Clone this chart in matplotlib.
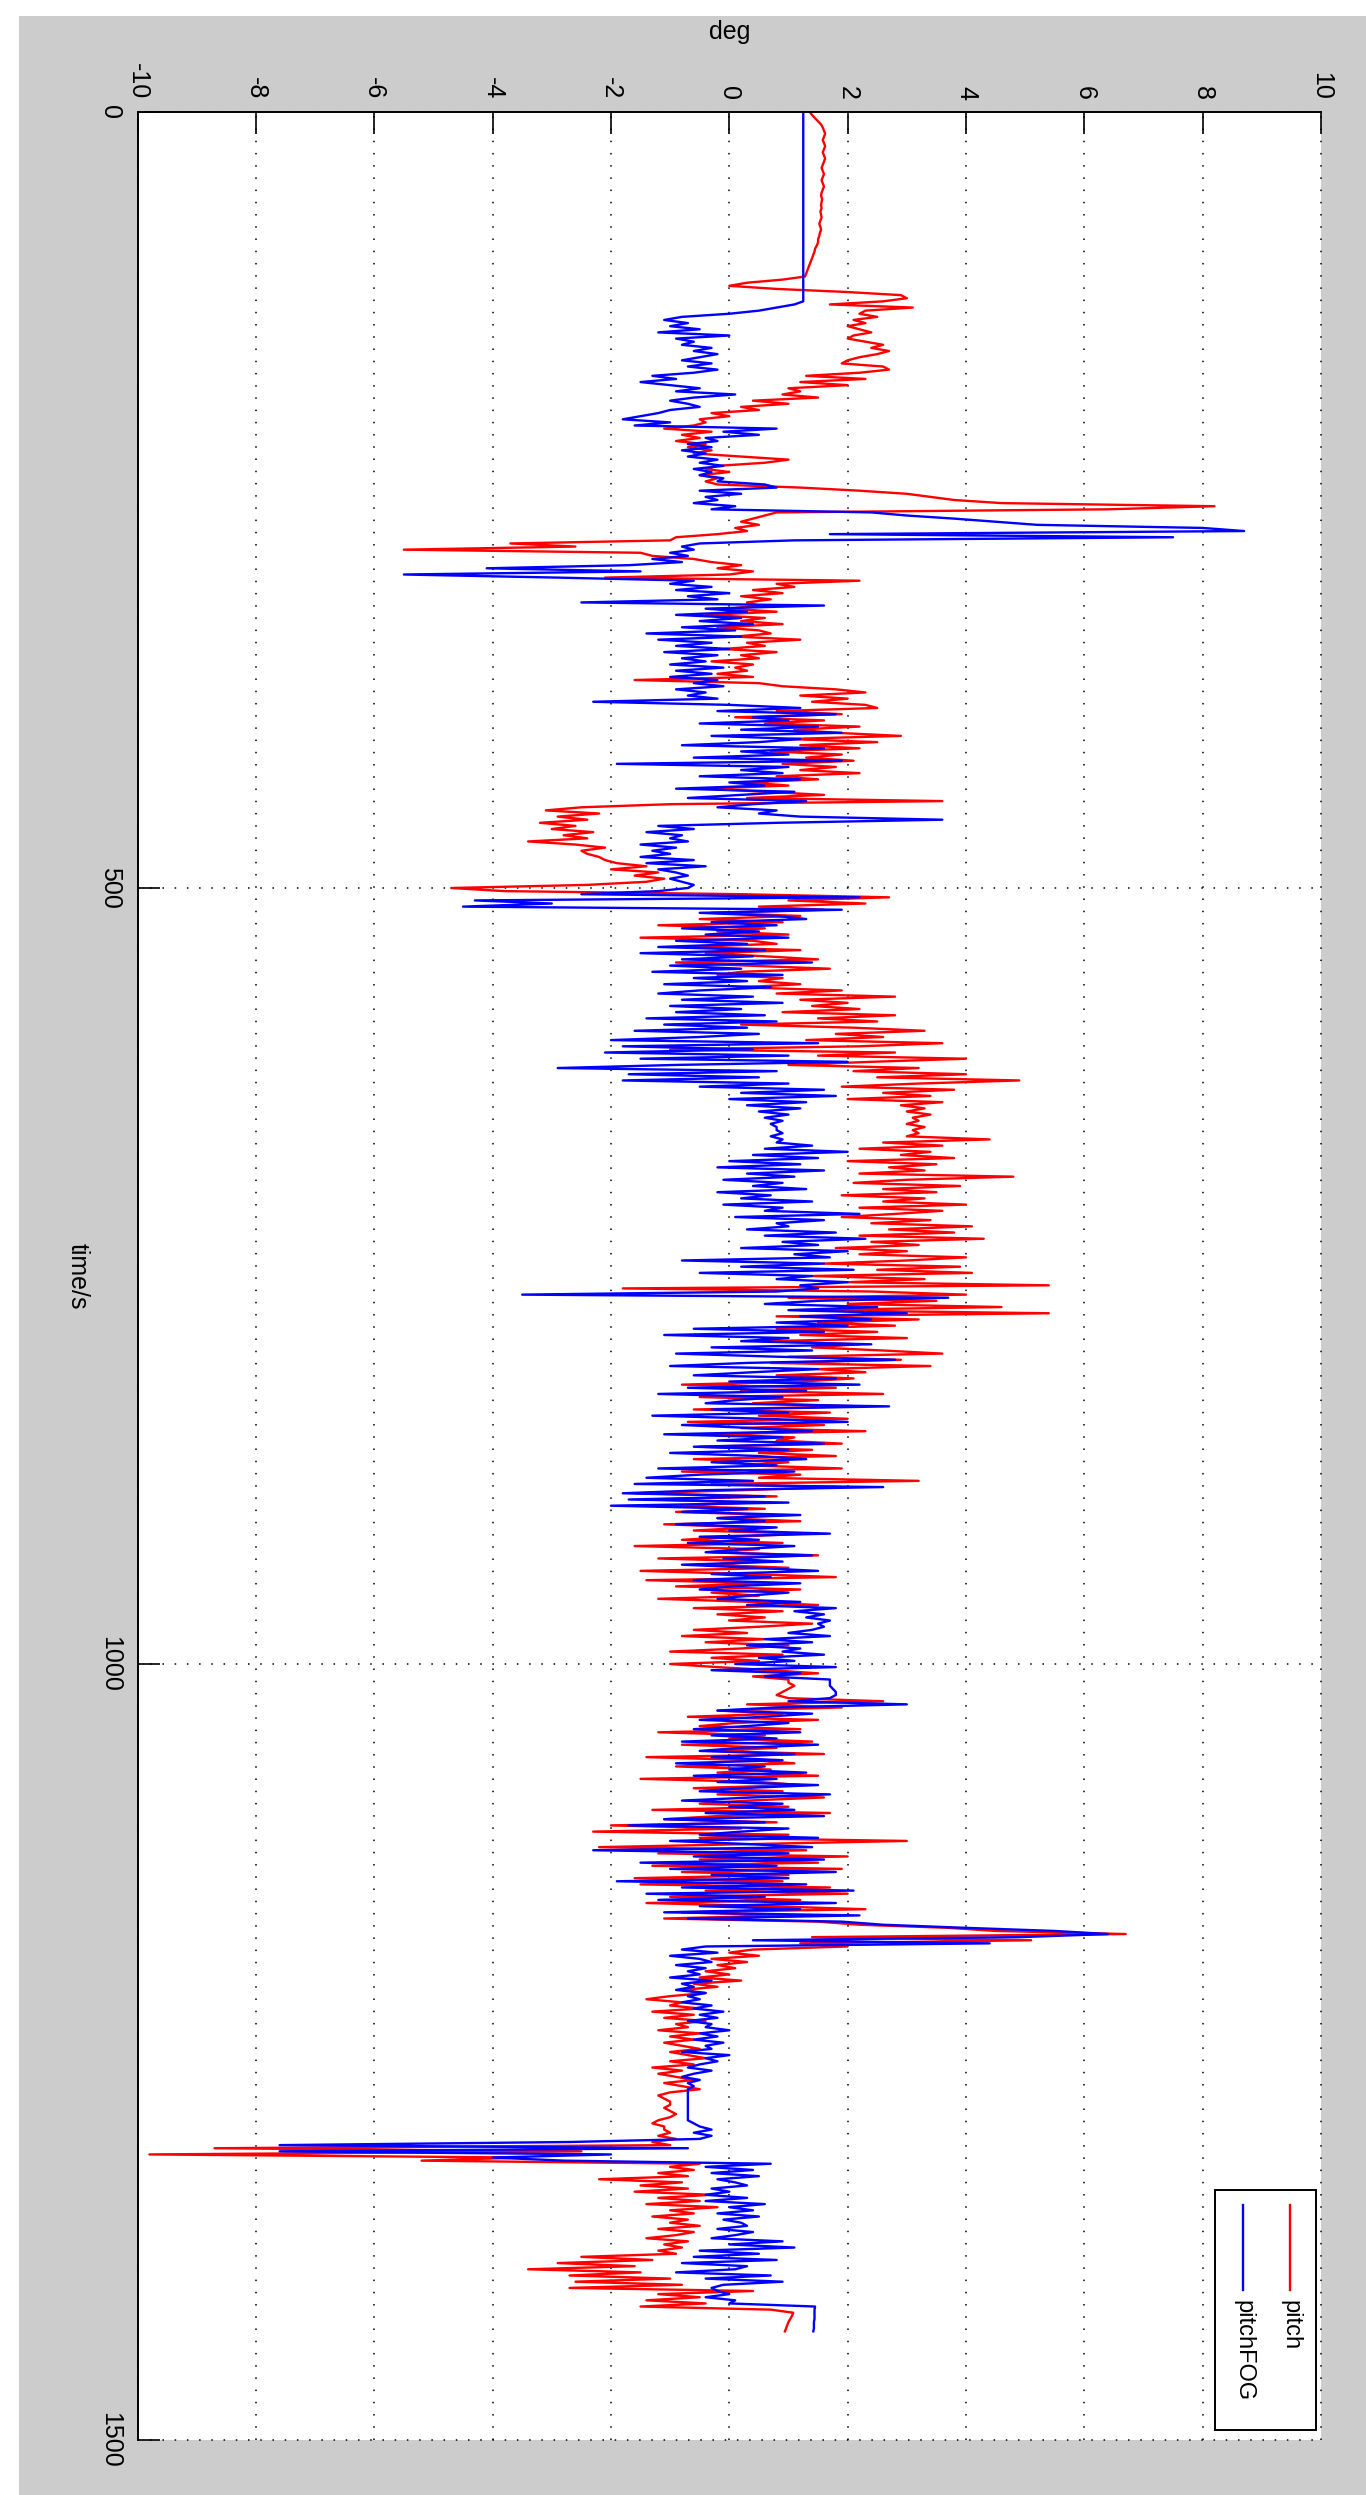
import numpy as np
import matplotlib
matplotlib.use("Agg")
import matplotlib.pyplot as plt
from matplotlib.patches import Rectangle
from matplotlib.lines import Line2D

plt.rcParams["font.family"] = ["Liberation Sans", "DejaVu Sans"]
plt.rcParams["axes.unicode_minus"] = False

# ---------------- data (one sample every 2 s) ----------------
time_step = 2  # seconds between samples
deg_ticks = [-10, -8, -6, -4, -2, 0, 2, 4, 6, 8, 10]
time_ticks = [0, 500, 1000, 1500]
series_names = ["pitch", "pitchFOG"]

pitch = [
    1.36, 1.40, 1.45, 1.50, 1.55, 1.58, 1.60, 1.62, 1.60, 1.58,
    1.60, 1.62, 1.60, 1.58, 1.60, 1.62, 1.60, 1.58, 1.56, 1.58,
    1.60, 1.58, 1.56, 1.58, 1.60, 1.58, 1.56, 1.55, 1.57, 1.56,
    1.55, 1.56, 1.54, 1.55, 1.56, 1.54, 1.52, 1.54, 1.55, 1.53,
    1.52, 1.50, 1.50, 1.48, 1.45, 1.44, 1.42, 1.40, 1.38, 1.36,
    1.34, 1.32, 1.30, 1.28, 0.90, 0.30, 0.00, 0.80, 2.00, 2.90,
    3.00, 2.60, 1.70, 3.10, 2.30, 2.20, 2.50, 2.10, 2.30, 2.00,
    2.20, 2.40, 2.10, 2.00, 2.30, 2.60, 2.40, 2.70, 2.50, 2.20,
    2.00, 1.90, 2.60, 2.70, 2.20, 1.30, 2.30, 1.20, 2.00, 1.00,
    1.20, 0.90, 1.50, 0.40, 1.00, 0.20, 0.50, -0.30, 0.00, -0.50,
    -0.40, -0.60, -1.10, -0.30, -0.80, -0.50, -0.90, -0.40, -0.70, -0.30,
    -0.60, 0.20, 1.00, 0.60, -0.20, -0.40, 0.00, -0.50, -0.20, -0.40,
    -0.20, 1.20, 2.20, 3.00, 3.40, 3.80, 4.60, 8.20, 6.40, 0.80,
    0.60, 0.40, 0.20, 0.50, 0.10, 0.30, -0.20, -0.90, -1.00, -3.70,
    -2.60, -5.50, -1.50, -1.30, -0.60, -0.30, 0.20, -0.20, 0.40, 0.00,
    -2.10, 2.20, 0.80, 1.10, 0.40, 0.90, 0.20, 0.70, 0.30, 0.50,
    0.00, 0.80, -0.40, 0.60, 0.20, 0.90, -0.20, 0.50, 0.70, 0.10,
    1.20, 0.30, 0.60, -0.10, 0.80, 0.20, 0.50, -0.30, 0.40, 0.10,
    0.30, -0.20, 0.40, -1.60, 0.50, 0.90, 1.80, 2.30, 1.20, 2.00,
    1.40, 2.30, 2.50, 0.80, 1.90, 0.10, 1.60, 0.60, 2.20, 1.10,
    1.80, 2.90, 1.00, 2.50, 1.20, 2.20, 0.70, 1.90, 1.30, 2.10,
    0.90, 1.80, 1.20, 2.20, 0.80, 1.50, 0.30, 1.00, -0.40, 0.60,
    1.60, 0.30, 3.60, -1.00, -2.50, -3.10, -2.20, -2.90, -2.40, -3.20,
    -2.60, -3.00, -2.30, -2.80, -2.40, -3.40, -2.60, -2.10, -2.50, -2.40,
    -2.20, -2.10, -1.90, -1.40, -2.00, -1.20, -1.60, -1.10, -1.40, -2.40,
    -4.70, -3.80, 0.20, 2.70, 1.00, 2.30, 0.50, 1.60, -0.30, 1.20,
    -0.50, 0.90, -1.20, 0.60, -0.20, 1.00, -1.50, 0.40, 0.80, -0.80,
    1.20, -0.40, 0.60, 1.50, -0.90, 0.30, 1.70, 0.20, -0.20, 0.90,
    0.50, 1.20, 0.20, 1.90, 0.80, 2.80, 1.20, 2.00, 1.40, 2.20,
    0.90, 2.80, 1.50, 2.50, 0.20, 2.10, 3.30, 1.80, 2.60, 1.30,
    3.60, 2.20, -1.00, 2.80, 1.50, 4.00, 2.40, 1.00, 3.20, 2.10,
    4.00, 2.50, 4.90, 3.20, 1.90, 3.80, 2.60, 3.40, 2.00, 3.60,
    2.90, 3.30, 3.00, 3.40, 3.10, 3.20, 3.00, 3.30, 3.10, 3.20,
    3.00, 4.40, 2.60, 3.60, 2.20, 3.40, 2.90, 3.80, 2.00, 3.50,
    2.70, 3.30, 2.20, 4.80, 3.00, 2.10, 3.90, 2.60, 3.50, 1.90,
    3.30, 2.60, 4.00, 2.20, 3.60, 2.80, 1.90, 3.40, 2.40, 4.10,
    2.70, 3.80, 2.20, 4.30, 2.40, 3.20, 1.80, 3.00, 2.20, 4.00,
    3.00, 1.60, 3.90, 2.50, 4.10, 1.40, 3.30, 2.00, 5.40, -1.80,
    2.40, 4.00, 1.00, 3.50, 2.00, 4.60, 1.20, 5.40, 0.80, 3.20,
    1.50, 2.80, 0.80, 2.50, 1.20, 3.00, 0.60, 2.20, 1.40, 2.60,
    3.60, 1.00, 2.90, 0.70, 3.40, 1.50, 2.30, 0.80, 2.10, 1.20,
    -0.80, 1.80, 0.20, 2.60, -0.50, 1.50, 0.40, 2.20, -0.60, 1.70,
    0.50, 2.00, -0.70, 1.60, 0.20, 2.30, -0.40, 1.10, 0.80, 1.90,
    -0.50, 1.40, 0.50, 1.80, -0.60, 1.00, 0.30, 1.90, -0.80, 1.20,
    0.50, 3.20, -0.30, 1.90, 0.20, -1.60, 0.80, -1.30, 0.40, -1.00,
    0.60, -0.90, 0.80, -0.20, 1.20, -1.10, 0.40, -0.60, 1.30, 0.10,
    -0.80, 0.90, -1.60, 0.50, -0.30, 1.50, -1.20, 0.60, -0.40, 1.00,
    -1.50, 0.30, 1.80, -1.40, 0.60, -0.90, 1.20, -0.30, 0.50, -1.20,
    0.40, 1.50, -0.60, 0.90, -0.20, 0.60, 0.00, 1.40, 0.50, -0.60,
    0.30, -0.80, 0.60, -0.40, 1.00, 0.20, -1.00, 0.90, -0.30, 0.50,
    -1.00, -0.20, 0.70, 1.50, 0.40, 1.00, 1.00, 1.10, 1.00, 0.90,
    0.80, 1.00, 2.60, 0.30, 1.90, -0.20, 0.90, -0.70, 1.50, 0.10,
    -0.50, 1.20, -1.20, 0.60, 0.00, 1.40, -0.80, 0.80, -0.30, 1.60,
    -1.40, 0.40, 1.10, -0.90, 0.70, -0.20, 1.50, -1.50, 0.50, 1.20,
    -0.60, 0.90, -0.20, 1.60, 0.30, -0.50, 1.00, -1.30, 1.70, -0.20,
    -1.10, 0.80, -2.00, 0.20, -2.30, 1.00, -0.50, 3.00, 0.40, -2.20,
    1.30, -1.20, 2.00, -0.50, 1.50, -1.30, 1.90, -0.80, 1.00, -1.60,
    0.90, -1.50, 1.70, -0.40, 2.00, -1.00, 1.20, -1.40, 0.60, 2.30,
    -0.80, 1.00, -1.10, 1.50, 2.20, 3.70, 4.50, 6.70, 1.40, 5.10,
    1.20, 2.00, 0.40, 0.00, 0.50, -0.30, 0.30, -0.20, 0.10, -0.40,
    0.00, -0.50, 0.20, -0.60, -0.20, -0.80, -0.40, -1.00, -1.40, -0.80,
    -1.00, -0.50, -1.30, -0.60, -1.10, -0.40, -0.90, -0.70, -1.20, -0.50,
    -1.00, -0.60, -1.10, -0.80, -0.50, -1.00, -0.70, -0.40, -1.00, -0.60,
    -1.30, -0.80, -1.20, -0.90, -0.60, -1.10, -0.80, -0.50, -1.00, -1.20,
    -1.10, -1.00, -1.00, -1.10, -1.00, -0.90, -1.00, -1.20, -1.30, -1.10,
    -1.10, -1.00, -1.20, -0.90, -1.30, -1.00, -8.70, -2.50, -9.80, -3.50,
    -5.20, -0.50, -1.00, -0.60, -1.20, -0.70, -2.20, -0.80, -1.50, -0.70,
    -1.60, -0.30, -1.20, -0.50, -1.40, -0.20, -1.00, -0.60, -1.30, -0.70,
    -1.00, -0.50, -1.20, -0.60, -0.90, -1.40, -0.70, -1.10, -0.80, -1.20,
    -0.90, -2.50, -1.30, -2.90, -1.60, -3.40, -1.50, -2.70, -1.00, -2.60,
    -0.80, -2.70, 0.40, -1.20, -0.50, -1.40, -0.40, -1.50, 0.70, 1.08,
    1.06, 1.03, 1.00, 0.98, 0.96, 0.94,
]

pitch_fog = [
    1.25, 1.25, 1.25, 1.25, 1.25, 1.25, 1.25, 1.25, 1.25, 1.25,
    1.25, 1.25, 1.25, 1.25, 1.25, 1.25, 1.25, 1.25, 1.25, 1.25,
    1.25, 1.25, 1.25, 1.25, 1.25, 1.25, 1.25, 1.25, 1.25, 1.25,
    1.25, 1.25, 1.25, 1.25, 1.25, 1.25, 1.25, 1.25, 1.25, 1.25,
    1.25, 1.25, 1.25, 1.25, 1.25, 1.25, 1.25, 1.25, 1.25, 1.25,
    1.25, 1.25, 1.25, 1.25, 1.25, 1.25, 1.25, 1.25, 1.25, 1.25,
    1.25, 1.25, 1.10, 0.80, 0.50, 0.00, -0.80, -1.10, -0.70, -1.00,
    -0.50, -1.20, 0.00, -0.90, -0.60, -0.80, -0.30, -0.60, -0.20, -0.50,
    -0.80, -0.30, -0.70, -0.20, -0.60, -1.30, -0.90, -1.50, -1.00, -0.50,
    -0.90, 0.10, -0.60, -1.00, -0.70, -0.50, -1.00, -1.20, -1.50, -1.80,
    -1.00, -1.60, 0.80, -0.10, 0.50, -0.40, -0.20, -0.70, -0.30, -0.80,
    -0.40, -0.70, -0.20, -0.50, -0.10, -0.60, -0.30, -0.50, -0.10, -0.20,
    0.60, 0.80, -0.50, 0.20, -0.40, -0.20, -0.60, 0.10, -0.30, 2.40,
    3.00, 3.80, 4.50, 5.20, 8.00, 8.70, 1.70, 7.50, 1.10, -0.50,
    -0.80, -0.60, -1.00, -0.70, -1.30, -0.80, -1.70, -4.10, -1.50, -5.50,
    -2.90, -0.60, -1.00, -0.30, -0.90, 0.00, -0.70, -0.20, -2.50, 1.60,
    -0.40, 0.30, -0.90, 0.20, -0.50, 0.40, -0.80, 0.10, -1.40, 0.20,
    -1.20, -0.30, -0.90, 0.00, -1.10, -0.20, -0.80, -0.40, -1.00, -0.10,
    -0.90, -0.30, -1.00, -0.20, -0.60, -0.10, -0.90, -0.40, -0.70, -0.20,
    -2.30, 0.00, 1.20, -0.20, 1.80, 0.40, 1.00, -0.50, 1.50, 0.20,
    1.90, -0.30, 1.20, 0.50, -0.80, 1.60, 0.20, 1.00, -0.60, 1.90,
    -1.90, 1.00, 0.20, 0.90, -0.50, 1.20, 0.00, 0.60, -0.90, 1.10,
    0.20, -0.70, 1.30, 0.40, -0.20, 0.80, 0.50, 1.20, 3.60, 0.80,
    -1.20, -0.60, -1.40, -0.80, -1.00, -0.70, -1.50, -0.90, -1.30, -1.00,
    -1.50, -0.60, -1.40, -0.40, -1.20, -0.90, -0.70, -1.00, -0.80, -0.60,
    -0.70, -1.20, -2.50, 2.20, -4.30, -3.00, -4.50, 1.90, -0.50, 0.80,
    1.30, -0.30, 0.80, -0.80, 0.50, -0.40, 1.00, -0.90, 0.30, -1.20,
    0.60, -1.50, 0.40, -0.80, 1.40, -1.00, 0.20, -1.30, 0.90, -0.60,
    0.30, -1.10, 0.70, -0.50, -1.20, 0.40, -0.80, 0.90, -1.00, 0.20,
    -0.90, 0.60, -1.40, 0.80, -1.10, 0.30, -1.60, 0.50, -0.50, -2.00,
    1.50, -1.80, 0.40, -2.10, 1.00, -1.50, 2.00, -0.90, -2.90, 0.80,
    -1.70, 0.50, -1.80, 1.00, -0.50, 1.60, 0.20, 1.80, 0.00, 1.30,
    0.30, 1.20, 0.50, 1.00, 0.60, 0.90, 0.70, 0.80, 0.80, 0.90,
    0.70, 0.90, 0.80, 1.40, 0.60, 2.00, 0.40, 1.50, 0.00, 1.20,
    -0.20, 1.60, 0.30, 1.10, -0.10, 0.90, 0.40, 1.30, -0.20, 0.70,
    0.20, 1.40, -0.10, 0.90, 0.60, 2.20, 0.10, 1.60, 0.80, 1.00,
    0.30, 1.80, 0.60, 2.30, 0.90, 1.50, 0.20, 2.00, 1.10, 1.70,
    -0.80, 1.60, 0.20, 2.10, -0.50, 1.40, 0.80, 2.00, 1.20, 1.50,
    0.80, -3.50, 3.70, 1.50, 0.60, 2.50, 1.00, 3.00, 1.20, 2.40,
    0.80, 2.00, -0.60, 1.60, -1.10, 1.00, 0.20, 2.40, -0.30, 1.40,
    -0.90, 0.80, 2.80, 0.30, -1.00, 1.50, 0.40, -0.60, 1.80, 0.00,
    2.20, -0.70, 1.30, -1.20, 0.90, 0.10, -0.40, 2.70, -0.30, 1.00,
    -1.30, 0.60, 2.00, -0.80, 0.40, 1.40, -1.10, 0.90, -0.20, 1.60,
    -0.60, 1.00, -1.00, 0.50, 1.30, -0.30, 0.80, -1.20, 1.10, -0.50,
    -1.40, 0.40, -1.60, 2.60, -0.40, -1.80, 0.60, -1.70, 1.00, -2.00,
    0.30, -0.80, 1.20, -0.20, 0.60, -0.90, 0.80, 0.00, 1.70, -0.50,
    0.50, -0.70, 1.10, 0.20, -0.40, 1.40, -0.10, 0.90, -0.80, 0.40,
    1.50, -0.30, 0.70, -0.60, 1.20, 0.00, -0.50, 1.00, 0.30, -0.20,
    1.20, 0.30, 1.80, 1.10, 1.60, 1.30, 1.70, 1.50, 1.60, 1.40,
    1.00, 1.70, 0.60, 1.40, 0.30, 1.20, 0.90, 1.60, 0.50, 1.10,
    0.10, 1.80, -0.30, 1.20, 0.60, 1.70, 1.70, 1.70, 1.75, 1.80,
    1.80, 1.70, 1.00, 3.00, 0.80, -0.20, 1.40, 0.60, -0.50, 1.00,
    0.30, -0.60, 1.20, -0.30, 0.80, -0.80, 1.50, 0.20, -0.50, 1.10,
    -0.30, 0.90, -0.90, 0.60, 0.00, 1.30, -0.60, 0.80, -0.20, 1.50,
    0.20, -0.50, 1.70, 0.40, -0.80, 0.90, 0.00, 1.10, -0.40, 1.60,
    -1.10, 0.60, -1.70, 1.00, 0.20, -0.50, 1.50, -1.00, 0.30, 1.40,
    -2.30, 1.00, -0.60, 1.60, -1.50, 0.80, -1.00, 1.80, -0.30, 1.00,
    -1.90, 1.30, -0.80, 2.10, -1.40, 0.60, -1.20, 1.80, -0.50, 1.20,
    -1.10, 2.20, -0.70, 1.90, 2.60, 4.00, 5.50, 6.40, 4.90, 0.40,
    4.40, -0.40, -0.80, -0.20, -1.00, -0.50, -0.30, -0.90, -0.40, -0.70,
    -0.50, -1.00, -0.30, -0.80, -0.60, -0.90, -0.40, -0.70, -0.50, -0.80,
    -0.30, -0.60, -0.10, -0.50, -0.20, -0.70, -0.30, -0.40, 0.00, -0.50,
    -0.20, -0.60, -0.10, -0.40, -0.30, -0.80, 0.00, -0.40, -0.20, -0.50,
    -0.70, -0.30, -0.60, -0.80, -0.50, -0.70, -0.60, -0.70, -0.70, -0.70,
    -0.70, -0.70, -0.70, -0.70, -0.70, -0.70, -0.70, -0.70, -0.60, -0.50,
    -0.30, -0.60, -0.30, -0.50, -2.70, -7.60, -0.70, -7.60, -2.00, -4.00,
    -2.80, 0.70, -0.40, 0.40, -0.30, 0.50, -0.20, 0.10, 0.30, -0.30,
    0.00, -0.40, 0.30, -0.40, 0.60, 0.00, 0.40, -0.20, 0.50, -0.10,
    0.20, 0.30, -0.20, 0.40, 0.10, -0.30, 0.90, 0.00, 1.10, -0.50,
    0.50, -0.60, 0.80, -0.80, 0.30, 0.10, -0.90, 0.70, -0.40, 0.90,
    -0.10, -0.30, -0.20, 0.00, -0.40, 0.10, 0.00, 1.45, 1.44, 1.44,
    1.44, 1.44, 1.43, 1.43, 1.43, 1.42,
]

t_pitch = np.arange(len(pitch)) * time_step
t_fog = np.arange(len(pitch_fog)) * time_step

# ---------------- figure ----------------
W, H = 1366, 2495
FS = 18
fig = plt.figure(figsize=(W / 100, H / 100), dpi=100, facecolor="white")

# grey MATLAB-like figure background (the shot is cropped, leaving a thin white strip)
fig.patches.append(Rectangle((19 / W, 0), 1 - 19 / W, 1 - 16 / H,
                             transform=fig.transFigure, facecolor="#cccccc",
                             edgecolor="none", zorder=-10))

ax_l, ax_r, ax_t, ax_b = 137.6, 1321.0, 112.0, 2440.0
ax = fig.add_axes([ax_l / W, (H - ax_b) / H, (ax_r - ax_l) / W, (ax_b - ax_t) / H])
ax.set_facecolor("white")

ax.plot(pitch, t_pitch, color="#ff0000", lw=1.7, label=series_names[0])
ax.plot(pitch_fog, t_fog, color="#0000ff", lw=1.7, label=series_names[1])

ax.set_xlim(deg_ticks[0], deg_ticks[-1])
ax.set_ylim(time_ticks[-1], time_ticks[0])
ax.set_xticks(deg_ticks)
ax.set_yticks(time_ticks)
ax.xaxis.tick_top()
ax.xaxis.set_label_position("top")
ax.tick_params(axis="both", direction="in", length=16, width=1.2,
               labelsize=FS, colors="black")
ax.tick_params(axis="x", labelrotation=270, pad=9)
ax.tick_params(axis="y", labelrotation=270, pad=11)
for lbl in ax.get_yticklabels():
    lbl.set_va("center")
    lbl.set_ha("right")

for side in ["right", "bottom"]:
    ax.spines[side].set_visible(False)
for side in ["top", "left"]:
    ax.spines[side].set_linewidth(1.4)
    ax.spines[side].set_color("black")

ax.grid(True, color="black", linestyle=(0, (1, 7)), linewidth=1.1)
for gl in ax.get_xgridlines() + ax.get_ygridlines():
    gl.set_clip_on(False)

ax.set_xlabel("deg", fontsize=FS, va="center", ha="center")
ax.xaxis.set_label_coords(0.5, 1 + (ax_t - 32) / (ax_b - ax_t))
ax.set_ylabel("time/s", fontsize=FS, rotation=270, va="center", ha="center")
ax.yaxis.set_label_coords((78 - ax_l) / (ax_r - ax_l), 0.5)

# ---------------- legend (rotated like the rest of the picture) ----------------
lg_l, lg_r, lg_t, lg_b = 1215, 1316, 2190, 2430
fig.patches.append(Rectangle((lg_l / W, (H - lg_b) / H), (lg_r - lg_l) / W, (lg_b - lg_t) / H,
                             transform=fig.transFigure, facecolor="white",
                             edgecolor="black", linewidth=1.4, zorder=5))
for name, col, xc in [(series_names[0], "#ff0000", 1290), (series_names[1], "#0000ff", 1243)]:
    fig.lines.append(Line2D([xc / W, xc / W], [(H - 2205) / H, (H - 2290) / H],
                            transform=fig.transFigure, color=col, lw=1.7, zorder=6))
    fig.text(xc / W, (H - 2300) / H, name, rotation=270, ha="center", va="top",
             fontsize=FS - 1, zorder=6)

fig.savefig("out.png", dpi=100, facecolor=fig.get_facecolor())
